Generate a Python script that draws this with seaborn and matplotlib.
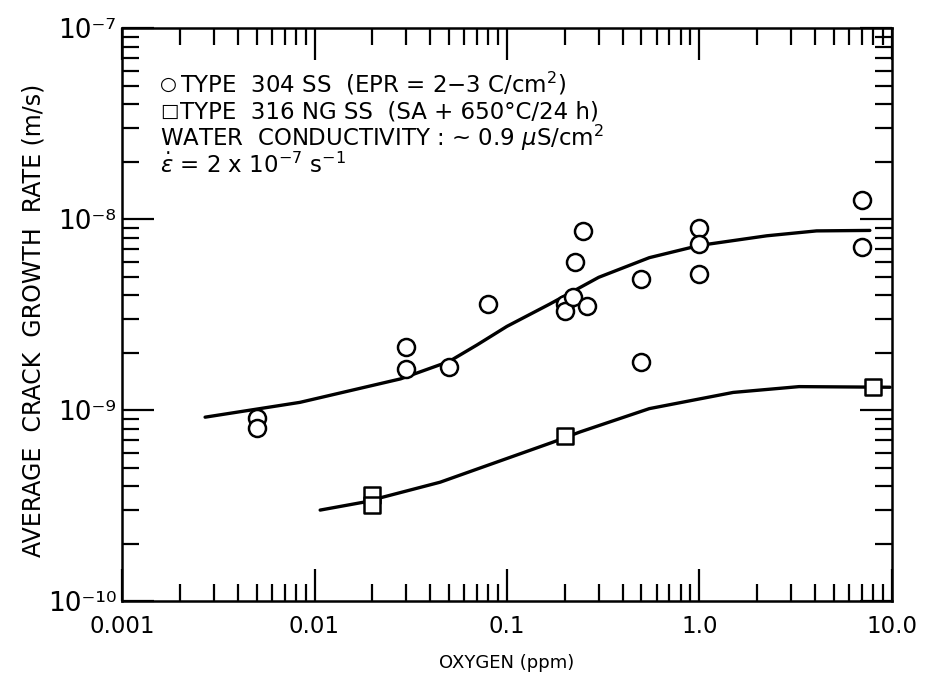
import matplotlib
matplotlib.use("Agg")
import matplotlib.pyplot as plt
import pandas as pd
import seaborn as sns
from matplotlib.ticker import LogLocator, NullFormatter

# Curve fits (oxygen ppm, m/s)
fit304_x = [0.0027, 0.0084, 0.028, 0.05, 0.07, 0.1, 0.167, 0.30, 0.55, 1.0, 2.24, 4.07, 7.7]
fit304_y = [0.92e-9, 1.10e-9, 1.46e-9, 1.80e-9, 2.2e-9, 2.75e-9, 3.6e-9, 4.97e-9, 6.3e-9,
            7.3e-9, 8.2e-9, 8.7e-9, 8.75e-9]
fit316_x = [0.0107, 0.018, 0.045, 0.072, 0.173, 0.24, 0.55, 1.5, 3.3, 9.8]
fit316_y = [3.0e-10, 3.3e-10, 4.2e-10, 4.97e-10, 6.8e-10, 7.7e-10, 1.02e-9, 1.24e-9,
            1.33e-9, 1.32e-9]

# Measured points
ss304_x = [0.005, 0.005, 0.03, 0.03, 0.05, 0.08, 0.2, 0.2, 0.22, 0.225, 0.25, 0.26,
           0.5, 0.5, 1.0, 1.0, 1.0, 7.0, 7.0]
ss304_y = [0.91e-9, 0.81e-9, 2.15e-9, 1.64e-9, 1.68e-9, 3.6e-9, 3.6e-9, 3.3e-9, 3.9e-9,
           6.0e-9, 8.7e-9, 3.5e-9, 4.85e-9, 1.8e-9, 9.0e-9, 7.4e-9, 5.15e-9, 1.27e-8, 7.2e-9]
ss316_x = [0.02, 0.02, 0.2, 8.0]
ss316_y = [3.6e-10, 3.2e-10, 7.3e-10, 1.32e-9]

xticks = [0.001, 0.01, 0.1, 1.0, 10.0]
xtick_labels = ["0.001", "0.01", "0.1", "1.0", "10.0"]
yticks = [1e-10, 1e-9, 1e-8, 1e-7]
ytick_labels = ["10\u207B\u00B9\u2070", "10\u207B\u2079", "10\u207B\u2078", "10\u207B\u2077"]

note_symbols = ["\u25CB", "\u25A1", "", ""]
notes = [
    "TYPE  304 SS  (EPR = 2\u22123 C/cm$^2$)",
    "TYPE  316 NG SS  (SA + 650\u00B0C/24 h)",
    "WATER  CONDUCTIVITY : ~ 0.9 $\\mu$S/cm$^2$",
    "$\\dot{\\epsilon}$ = 2 x 10$^{-7}$ s$^{-1}$",
]


def main():
    sns.set_style("ticks")
    plt.rcParams["font.family"] = ["DejaVu Sans"]
    plt.rcParams["mathtext.fontset"] = "dejavusans"
    plt.rcParams["text.color"] = "black"
    plt.rcParams["axes.labelcolor"] = "black"

    fig = plt.figure(figsize=(9.25, 6.77), dpi=100)
    ax = fig.add_axes([0.132, 0.112, 0.832, 0.846])

    lw = 2.4
    sns.lineplot(data=pd.DataFrame({"x": fit304_x, "y": fit304_y}), x="x", y="y",
                 color="black", lw=lw, estimator=None, ax=ax)
    sns.lineplot(data=pd.DataFrame({"x": fit316_x, "y": fit316_y}), x="x", y="y",
                 color="black", lw=lw, estimator=None, ax=ax)
    sns.scatterplot(x=ss304_x, y=ss304_y, marker="o", s=150, facecolor="white",
                    edgecolor="black", linewidth=1.8, zorder=3, ax=ax)
    sns.scatterplot(x=ss316_x, y=ss316_y, marker="s", s=125, facecolor="white",
                    edgecolor="black", linewidth=1.8, zorder=3, ax=ax)

    ax.set_xscale("log")
    ax.set_yscale("log")
    ax.set_xlim(0.001, 10.0)
    ax.set_ylim(1e-10, 1e-7)

    ax.set_xticks(xticks, labels=xtick_labels)
    ax.set_yticks(yticks, labels=ytick_labels)
    ax.xaxis.set_minor_locator(LogLocator(base=10, subs=range(2, 10)))
    ax.yaxis.set_minor_locator(LogLocator(base=10, subs=range(2, 10)))
    ax.xaxis.set_minor_formatter(NullFormatter())
    ax.yaxis.set_minor_formatter(NullFormatter())

    ax.tick_params(which="both", direction="in", top=True, right=True, width=1.6,
                   color="black", labelcolor="black")
    ax.tick_params(which="major", length=23)
    ax.tick_params(which="minor", length=12.5)
    ax.tick_params(axis="x", which="major", labelsize=16.5, pad=10)
    ax.tick_params(axis="y", which="major", labelsize=19, pad=4)
    for sp in ax.spines.values():
        sp.set_linewidth(1.8)
        sp.set_color("black")

    ax.set_xlabel("OXYGEN (ppm)", fontsize=13)
    ax.xaxis.set_label_coords(0.5, -0.092)
    ax.set_ylabel("AVERAGE  CRACK  GROWTH  RATE (m/s)", fontsize=17)
    ax.yaxis.set_label_coords(-0.1, 0.49)

    # legend-like notes in the upper left corner
    for i, (sym, line) in enumerate(zip(note_symbols, notes)):
        y = 0.889 - i * 0.047
        x0 = 0.049
        if sym:
            ax.text(x0, y + 0.004, sym, transform=ax.transAxes, fontsize=14,
                    va="baseline", ha="left")
            x0 = 0.075
        ax.text(x0, y, line, transform=ax.transAxes, fontsize=16.5,
                va="baseline", ha="left")

    fig.savefig("out.png", dpi=100)
    plt.close(fig)


if __name__ == "__main__":
    main()
